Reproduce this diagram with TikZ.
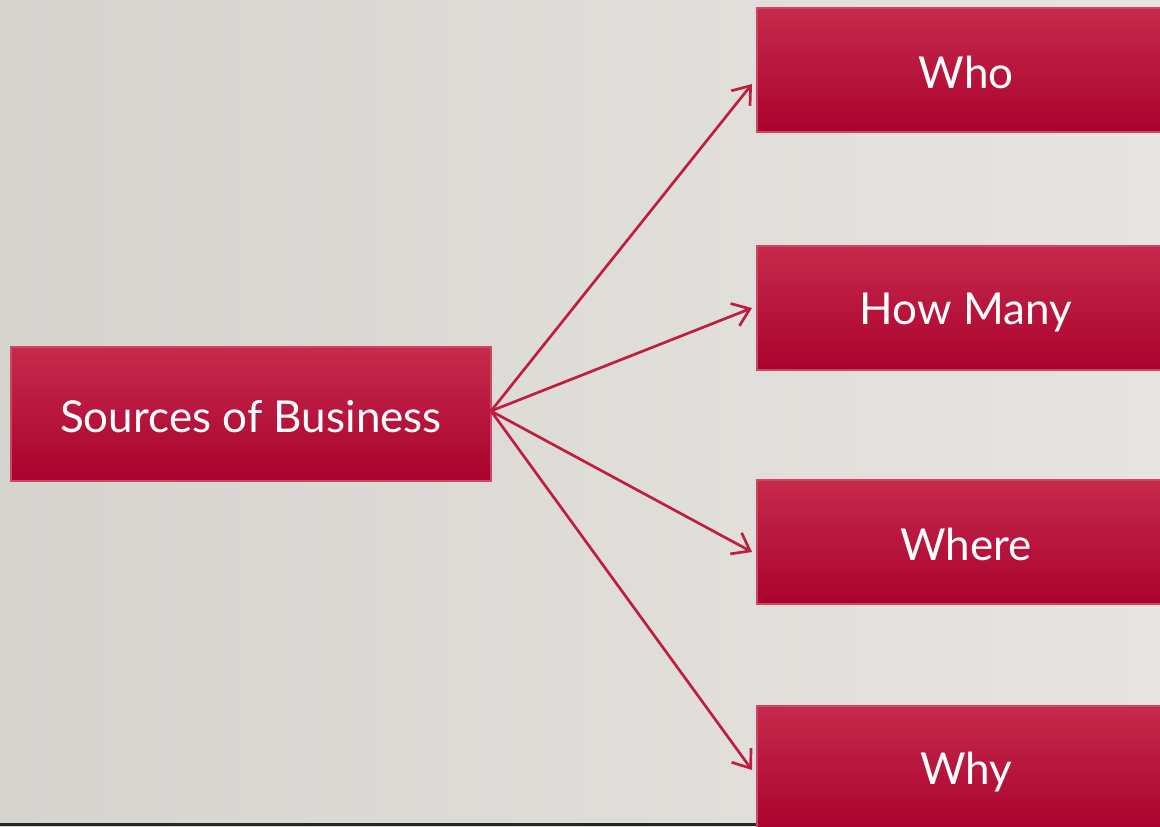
\documentclass[tikz,border=0pt]{standalone}
\usepackage{fontspec}
\setmainfont{Lato}
\usetikzlibrary{arrows.meta}
\definecolor{bgleft}{RGB}{214,212,207}
\definecolor{bgright}{RGB}{231,229,225}
\definecolor{boxtop}{RGB}{198,42,76}
\definecolor{boxbot}{RGB}{170,2,46}
\definecolor{boxline}{RGB}{206,70,98}
\definecolor{arrowcol}{RGB}{192,30,64}
\tikzset{
  redbox/.style={rectangle, draw=boxline, line width=0.6pt, top color=boxtop, bottom color=boxbot,
    text=white, font=\fontsize{22}{26}\selectfont, inner sep=0pt},
  boxtext/.style={text=white, font=\fontsize{22}{26}\selectfont, inner sep=0pt},
  conn/.style={draw=arrowcol, line width=1.35pt, -{Straight Barb[length=8pt,width=12pt,line width=1.35pt]}}
}
\begin{document}
\begin{tikzpicture}[x=0.5pt,y=-0.5pt]
\useasboundingbox (0,0) rectangle (1160,826);
\clip (0,0) rectangle (1160,826);
\shade[left color=bgleft, right color=bgright] (0,0) rectangle (1160,826);
\fill[black!85] (0,823) rectangle (1160,826);
\node[redbox, minimum width=240pt, minimum height=67pt] (src) at (251,414) {};
\node[redbox, minimum width=209pt, minimum height=62pt] (who) at (966,70) {};
\node[redbox, minimum width=209pt, minimum height=62pt] (how) at (966,308) {};
\node[redbox, minimum width=209pt, minimum height=62pt] (where) at (966,542) {};
\node[redbox, minimum width=209pt, minimum height=62pt] (why) at (966,768) {};
\node[boxtext] (srct) at ([yshift=-1.2pt]src.center) {Sources of Business};
\node[boxtext] (whot) at ([yshift=-1.2pt]who.center) {Who};
\node[boxtext] (howt) at ([yshift=-2pt]how.center) {How Many};
\node[boxtext] (wheret) at ([yshift=-1.2pt]where.center) {Where};
\node[boxtext] (whyt) at ([yshift=-2pt]why.center) {Why};
\coordinate (start) at (491,411);
\coordinate (ewho) at (752,84);
\coordinate (ehow) at (752,308);
\coordinate (ewhere) at (752,552);
\coordinate (ewhy) at (752,770);
\draw[conn] (start) -- (ewho);
\draw[conn] (start) -- (ehow);
\draw[conn] (start) -- (ewhere);
\draw[conn] (start) -- (ewhy);
\end{tikzpicture}
\end{document}
